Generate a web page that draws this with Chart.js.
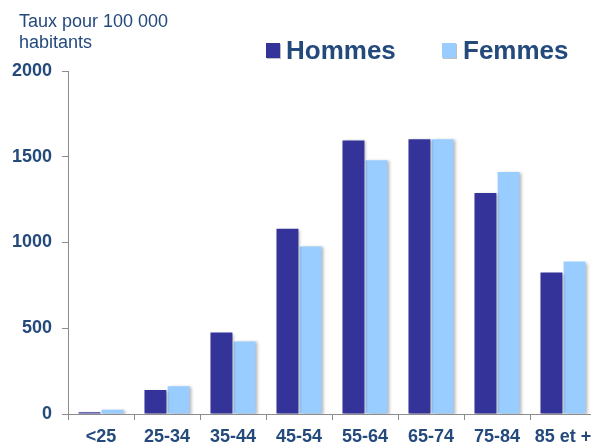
<!DOCTYPE html>
<html>
<head>
<meta charset="utf-8">
<script src="https://cdn.jsdelivr.net/npm/chart.js@4/dist/chart.umd.min.js"></script>
<style>
  html, body { margin: 0; padding: 0; background: #ffffff; overflow: hidden; }
  #wrap { position: absolute; left: 0; top: 0; width: 600px; height: 446px; }
</style>
</head>
<body>
<div id="wrap"><canvas id="c" width="600" height="446"></canvas></div>
<script>
const categories = ['<25', '25-34', '35-44', '45-54', '55-64', '65-74', '75-84', '85 et +'];
const hommes = [10, 140, 475, 1080, 1595, 1602, 1288, 825];
const femmes = [25, 162, 423, 977, 1480, 1602, 1411, 889];
const seriesNames = ['Hommes', 'Femmes'];
const titleLines = ['Taux pour 100 000', 'habitants'];
const yTicks = [0, 500, 1000, 1500, 2000];

const FONT = '"Liberation Sans", Arial, Helvetica, sans-serif';
const TEXT = '#244A7C';
const AXIS = '#8c8c8c';
const C_H = '#333399';
const C_F = '#99CCFF';

const shadowPlugin = {
  id: 'barShadow',
  beforeDatasetsDraw(chart) {
    const ctx = chart.ctx;
    ctx.save();
    ctx.shadowColor = 'rgba(0,0,0,0.28)';
    ctx.shadowOffsetX = 2;
    ctx.shadowOffsetY = 1;
    ctx.shadowBlur = 3;
  },
  afterDatasetsDraw(chart) {
    chart.ctx.restore();
  }
};

const decorPlugin = {
  id: 'decor',
  afterDraw(chart) {
    const ctx = chart.ctx;
    ctx.save();
    // title
    ctx.fillStyle = TEXT;
    ctx.font = '18px ' + FONT;
    ctx.textAlign = 'left';
    ctx.textBaseline = 'alphabetic';
    ctx.fillText(titleLines[0], 19, 27);
    ctx.fillText(titleLines[1], 19, 48);
    // legend
    const items = [
      { x: 266, tx: 286 },
      { x: 442, tx: 463 }
    ];
    chart.data.datasets.forEach((ds, i) => {
      const it = items[i];
      ctx.fillStyle = 'rgba(0,0,0,0.25)';
      ctx.fillRect(it.x + 1, 44, 14, 15);
      ctx.fillStyle = ds.backgroundColor;
      ctx.fillRect(it.x, 43, 14, 15);
      ctx.fillStyle = TEXT;
      ctx.font = 'bold 26px ' + FONT;
      ctx.fillText(ds.label, it.tx, 59);
    });
    ctx.restore();
  }
};

new Chart(document.getElementById('c'), {
  type: 'bar',
  data: {
    labels: categories,
    datasets: [
      { label: seriesNames[0], data: hommes, backgroundColor: C_H, borderWidth: 0 },
      { label: seriesNames[1], data: femmes, backgroundColor: C_F, borderWidth: 0 }
    ]
  },
  options: {
    responsive: false,
    animation: false,
    devicePixelRatio: 1,
    categoryPercentage: 0.7,
    barPercentage: 0.95,
    layout: { padding: { top: 71, right: 4, left: 0, bottom: 0 } },
    plugins: {
      legend: { display: false },
      title: { display: false },
      tooltip: { enabled: false }
    },
    scales: {
      x: {
        grid: { display: true, drawOnChartArea: false, drawTicks: true, tickLength: 6, color: AXIS, offset: true },
        border: { display: true, color: AXIS, width: 1 },
        ticks: {
          color: TEXT,
          font: { family: FONT, size: 18, weight: 'bold' },
          padding: 6,
          maxRotation: 0,
          minRotation: 0,
          autoSkip: false
        },
        afterFit(scale) { scale.height = 32; }
      },
      y: {
        min: 0,
        max: 2000,
        afterBuildTicks(scale) { scale.ticks = yTicks.map(v => ({ value: v })); },
        grid: { display: true, drawOnChartArea: false, drawTicks: true, tickLength: 6, color: AXIS },
        border: { display: true, color: AXIS, width: 1 },
        ticks: {
          color: TEXT,
          font: { family: FONT, size: 18, weight: 'bold' },
          padding: 10,
          callback(value) { return String(value); }
        },
        afterFit(scale) { scale.width = 68; }
      }
    }
  },
  plugins: [shadowPlugin, decorPlugin]
});
</script>
</body>
</html>
